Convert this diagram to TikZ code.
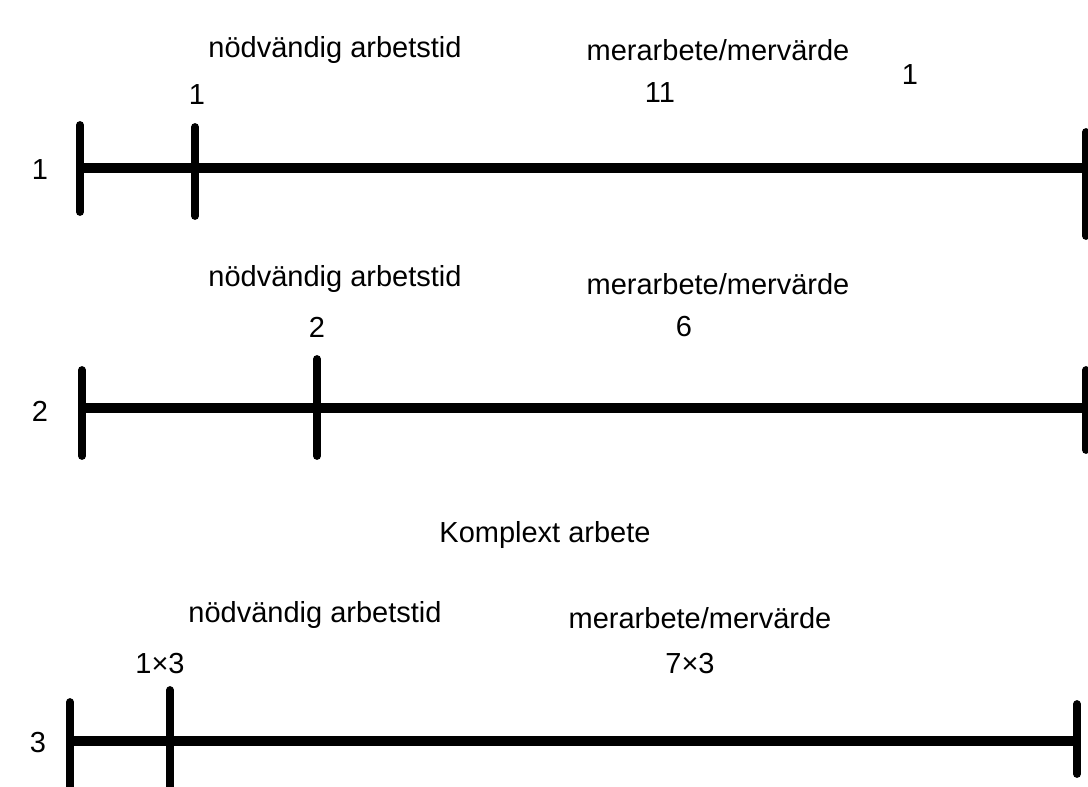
\documentclass[tikz,border=0pt]{standalone}
\usepackage{fontspec}
\setmainfont{Liberation Sans}
\usetikzlibrary{positioning}

\begin{document}
\begin{tikzpicture}[
  x=0.02cm, y=-0.02cm,
  lbl/.style={font=\fontsize{16.5}{19}\selectfont, inner sep=1pt},
  bar/.style={line width=5.6pt},
  tick/.style={line width=4.4pt, line cap=round}
]
  \useasboundingbox (0,0) rectangle (1088,787);

  % Rad 1
  \coordinate (a1) at (80,168);
  \coordinate (b1) at (195,168);
  \coordinate (c1) at (1096,168);
  \draw[bar] (a1) -- (c1);
  \draw[tick] (80,125) -- (80,212);
  \draw[tick] (195,127) -- (195,216);
  \draw[tick] (1086,132) -- (1086,236);
  \node[lbl] (r1) at (40,170) {1};
  \node[lbl] (n1) at (335,50) {nödvändig arbetstid};
  \node[lbl] (m1) at (718,50) {merarbete/mervärde};
  \node[lbl] (v1) at (197,95) {1};
  \node[lbl] (w1) at (660,93) {11};
  \node[lbl] (x1) at (910,75) {1};

  % Rad 2
  \coordinate (a2) at (82,408);
  \coordinate (b2) at (317,408);
  \coordinate (c2) at (1096,408);
  \draw[bar] (a2) -- (c2);
  \draw[tick] (82,370) -- (82,456);
  \draw[tick] (317,359) -- (317,456);
  \draw[tick] (1086,370) -- (1086,450);
  \node[lbl] (r2) at (40,411) {2};
  \node[lbl] (n2) at (335,279) {nödvändig arbetstid};
  \node[lbl] (m2) at (718,284) {merarbete/mervärde};
  \node[lbl] (v2) at (317,327) {2};
  \node[lbl] (w2) at (684,327) {6};

  % Komplext arbete
  \node[lbl] (ka) at (545,535) {Komplext arbete};

  % Rad 3
  \coordinate (a3) at (70,741);
  \coordinate (b3) at (170,741);
  \coordinate (c3) at (1078,741);
  \draw[bar] (a3) -- (c3);
  \draw[tick] (70,702) -- (70,795);
  \draw[tick] (170,690) -- (170,795);
  \draw[tick] (1077,704) -- (1077,774);
  \node[lbl] (r3) at (38,743) {3};
  \node[lbl] (n3) at (315,615) {nödvändig arbetstid};
  \node[lbl] (m3) at (700,618) {merarbete/mervärde};
  \node[lbl] (v3) at (160,664) {1×3};
  \node[lbl] (w3) at (690,664) {7×3};
\end{tikzpicture}
\end{document}
